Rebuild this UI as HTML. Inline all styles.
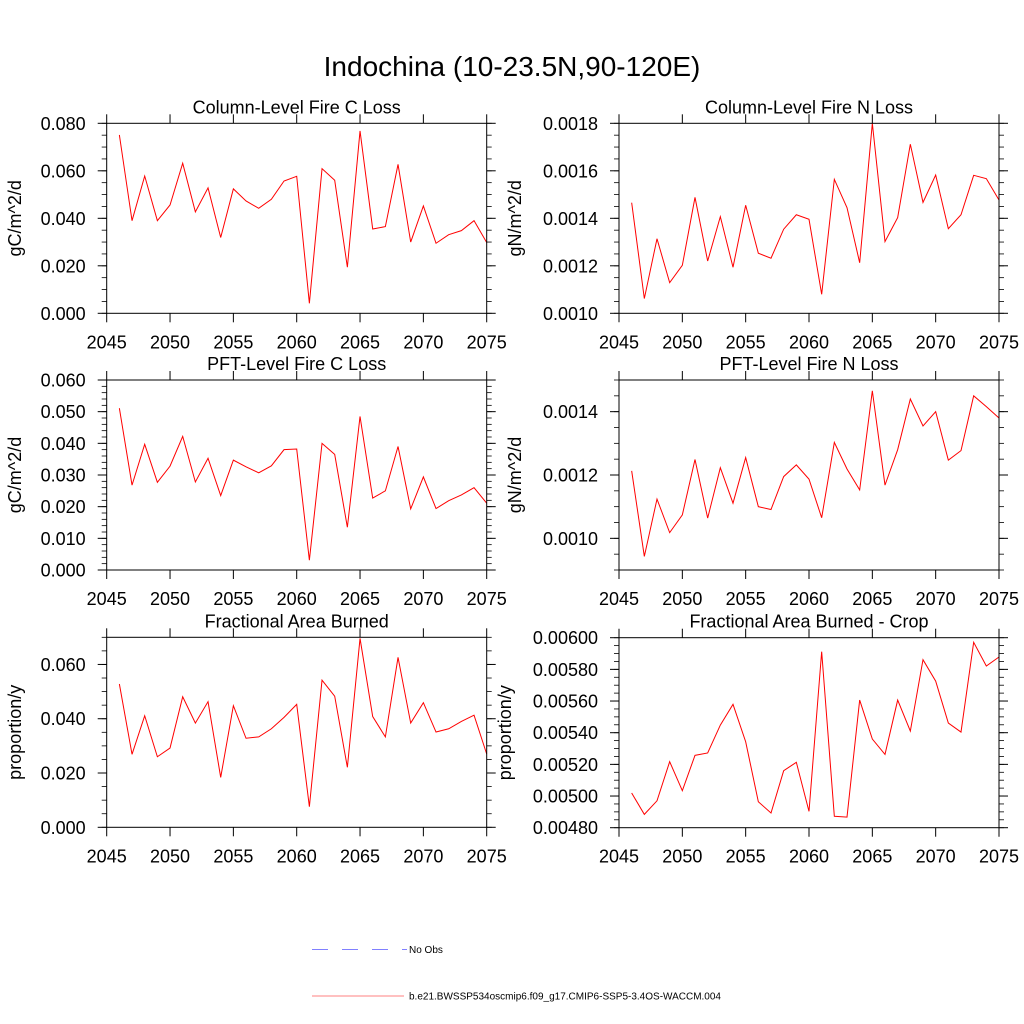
<!DOCTYPE html>
<html><head><meta charset="utf-8"><style>
body{margin:0;background:#fff}
svg{display:block;font-family:"Liberation Sans",Arial,sans-serif}
</style></head><body>
<svg id="chart" width="1024" height="1024" viewBox="0 0 1024 1024" xmlns="http://www.w3.org/2000/svg">
<rect width="1024" height="1024" fill="#fff"/>
<text x="512" y="76" font-size="28" text-anchor="middle">Indochina (10-23.5N,90-120E)</text>
<g id="panels"></g>
<g>
<line x1="312" y1="949.5" x2="407" y2="949.5" stroke="#8080ff" stroke-width="1" stroke-dasharray="16,14"/>
<text x="409" y="953" font-size="10">No Obs</text>
<line x1="312" y1="996" x2="404" y2="996" stroke="#ff8080" stroke-width="1"/>
<text x="409" y="999.5" font-size="10">b.e21.BWSSP534oscmip6.f09_g17.CMIP6-SSP5-3.4OS-WACCM.004</text>
</g>
</svg>
<script>
const years = [2046,2047,2048,2049,2050,2051,2052,2053,2054,2055,2056,2057,2058,2059,2060,2061,2062,2063,2064,2065,2066,2067,2068,2069,2070,2071,2072,2073,2074,2075];
const xTicks = [2045,2050,2055,2060,2065,2070,2075];
const colCLoss = [0.0751,0.039,0.0578,0.039,0.0456,0.0632,0.0427,0.0528,0.0319,0.0524,0.0473,0.0442,0.048,0.0557,0.0577,0.0042,0.0609,0.056,0.0194,0.0768,0.0355,0.0365,0.0627,0.030,0.0452,0.0295,0.0331,0.0348,0.039,0.0298];
const colNLoss = [0.001466,0.001062,0.001314,0.001129,0.001202,0.001488,0.00122,0.001407,0.001194,0.001455,0.001253,0.001232,0.001354,0.001415,0.001396,0.00108,0.001564,0.001445,0.001213,0.0018,0.001302,0.001403,0.001712,0.001467,0.001582,0.001356,0.001415,0.001581,0.001567,0.001477];
const pftCLoss = [0.0511,0.0268,0.0397,0.0277,0.0328,0.0422,0.0278,0.0353,0.0235,0.0347,0.0326,0.0307,0.0329,0.038,0.0382,0.0031,0.04,0.0365,0.0135,0.0485,0.0227,0.025,0.039,0.0193,0.0294,0.0194,0.0219,0.0237,0.026,0.0211];
const pftNLoss = [0.001213,0.000943,0.001124,0.001018,0.001074,0.001249,0.001064,0.001223,0.001111,0.001255,0.0011,0.001091,0.001195,0.001232,0.001187,0.001065,0.001303,0.001219,0.001153,0.001466,0.001168,0.00128,0.00144,0.001355,0.0014,0.001247,0.001277,0.00145,0.001416,0.00138];
const areaBurned = [0.0528,0.0269,0.0411,0.026,0.0292,0.0481,0.0384,0.0463,0.0184,0.0448,0.0328,0.0333,0.0363,0.0405,0.0453,0.0076,0.0542,0.0483,0.0221,0.0696,0.0408,0.0333,0.0626,0.0384,0.0459,0.0351,0.0363,0.039,0.0413,0.027];
const cropBurned = [0.005019,0.004884,0.00497,0.005217,0.005034,0.005257,0.005272,0.005448,0.005579,0.005343,0.004964,0.004893,0.00516,0.005213,0.004903,0.005912,0.004872,0.004867,0.005606,0.00536,0.005263,0.005606,0.00541,0.005861,0.005726,0.005461,0.005404,0.005971,0.005821,0.005878];
const yTicks1 = [0,0.02,0.04,0.06,0.08];
const yLabels1 = ["0.000","0.020","0.040","0.060","0.080"];
const yTicks2 = [0.0010,0.0012,0.0014,0.0016,0.0018];
const yLabels2 = ["0.0010","0.0012","0.0014","0.0016","0.0018"];
const yTicks3 = [0,0.01,0.02,0.03,0.04,0.05,0.06];
const yLabels3 = ["0.000","0.010","0.020","0.030","0.040","0.050","0.060"];
const yTicks4 = [0.0010,0.0012,0.0014];
const yLabels4 = ["0.0010","0.0012","0.0014"];
const yTicks5 = [0,0.02,0.04,0.06];
const yLabels5 = ["0.000","0.020","0.040","0.060"];
const yTicks6 = [0.0048,0.0050,0.0052,0.0054,0.0056,0.0058,0.0060];
const yLabels6 = ["0.00480","0.00500","0.00520","0.00540","0.00560","0.00580","0.00600"];

const NS='http://www.w3.org/2000/svg';
const root=document.getElementById('panels');
function mk(tag,attrs,parent){const e=document.createElementNS(NS,tag);for(const k in attrs)e.setAttribute(k,attrs[k]);parent.appendChild(e);return e;}

function panel(name,title,ytitle,vals,yt,yl,ymin,ymax,minorStep,L,T,ytx){
  const R=L+380,B=T+190;
  const g=mk('g',{},root);
  
  
  const xs=v=>L+(v-2045)/30*380;
  const ys=v=>B-(v-ymin)/(ymax-ymin)*190;
  const t=mk('text',{x:(L+R)/2,y:T-10,'font-size':18,'text-anchor':'middle'},g);
  t.textContent=title;
  
  
  const n=Math.round((ymax-ymin)/minorStep);
  for(let i=0;i<=n;i++){const y=ys(ymin+i*minorStep);
    mk('line',{x1:L-5,x2:L,y1:y,y2:y,stroke:'#000','stroke-width':0.8},g);
    mk('line',{x1:R,x2:R+5,y1:y,y2:y,stroke:'#000','stroke-width':0.8},g);}
  yt.forEach((v,i)=>{const y=ys(v);
    mk('line',{x1:L-9,x2:L,y1:y,y2:y,stroke:'#000','stroke-width':1},g);
    mk('line',{x1:R,x2:R+9,y1:y,y2:y,stroke:'#000','stroke-width':1},g);
    const tx=mk('text',{x:L-21,y:y+6.5,'font-size':18,'text-anchor':'end'},g);
    tx.textContent=yl[i];
    
    });
  xTicks.forEach(v=>{const x=xs(v);
    mk('line',{x1:x,x2:x,y1:B,y2:B+9,stroke:'#000','stroke-width':1},g);
    mk('line',{x1:x,x2:x,y1:T-9,y2:T,stroke:'#000','stroke-width':1},g);
    const tx=mk('text',{x:x,y:B+35,'font-size':18,'text-anchor':'middle'},g);
    tx.textContent=v;
    
    });
  const yt2=mk('text',{x:0,y:0,'font-size':18,'text-anchor':'middle',transform:`translate(${ytx+6},${(T+B)/2}) rotate(-90)`},g);
  yt2.textContent=ytitle;
  
  
  const pts=years.map((yr,i)=>xs(yr).toFixed(2)+','+ys(vals[i]).toFixed(2)).join(' ');
  const pl=mk('polyline',{points:pts,fill:'none',stroke:'#ff0000','stroke-width':1},g);
  
  
  const fr=mk('rect',{x:L,y:T,width:380,height:190,fill:'none',stroke:'#000','stroke-width':1},g);
  
  
}
panel('panel-column-fire-c-loss','Column-Level Fire C Loss','gC/m^2/d',colCLoss,yTicks1,yLabels1,0,0.08,0.005,106.7,123.3,15);
panel('panel-column-fire-n-loss','Column-Level Fire N Loss','gN/m^2/d',colNLoss,yTicks2,yLabels2,0.0010,0.0018,0.00005,619,123.3,515);
panel('panel-pft-fire-c-loss','PFT-Level Fire C Loss','gC/m^2/d',pftCLoss,yTicks3,yLabels3,0,0.06,0.002,106.7,380,15);
panel('panel-pft-fire-n-loss','PFT-Level Fire N Loss','gN/m^2/d',pftNLoss,yTicks4,yLabels4,0.0009,0.0015,0.00005,619,380,515);
panel('panel-fractional-area-burned','Fractional Area Burned','proportion/y',areaBurned,yTicks5,yLabels5,0,0.07,0.005,106.7,637.3,15);
panel('panel-fractional-area-burned-crop','Fractional Area Burned - Crop','proportion/y',cropBurned,yTicks6,yLabels6,0.0048,0.0060,0.00005,619,637.7,505);
</script>
</body></html>
